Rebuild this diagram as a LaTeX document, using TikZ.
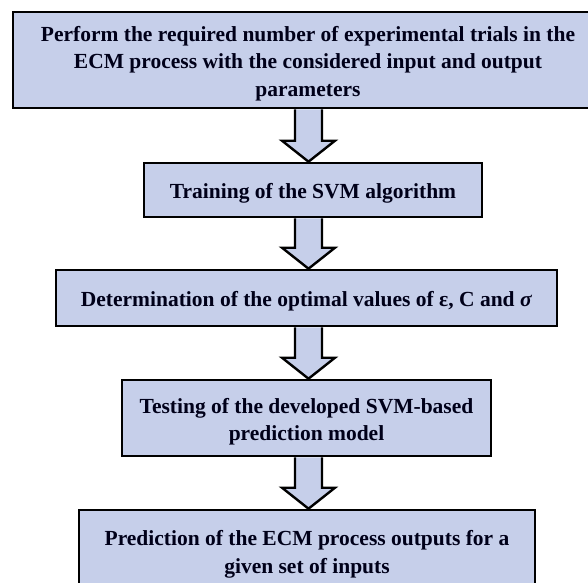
\documentclass[tikz,border=0pt]{standalone}
\usepackage{fontspec}
\setmainfont{Liberation Serif}
\usetikzlibrary{calc}
\definecolor{boxfill}{RGB}{198,207,234}
\tikzset{
  box/.style={draw=black, line width=2.6pt, fill=boxfill, inner sep=0pt},
  txt/.style={align=center, font=\bfseries\fontsize{21.5}{27.5}\selectfont,
    inner sep=0pt, yshift=-3.5pt, text=black!90!blue},
  flow/.style={draw=black, line width=2.4pt, fill=boxfill, line join=miter, miter limit=10},
}
\newcommand{\flowarrow}[2]{%
  \draw[flow] let \p1=(#1.south), \p2=(#2.north) in
    (295pt,\y1) -- (295pt,\y2+21pt) -- (282pt,\y2+21pt) -- (308.5pt,\y2)
    -- (335pt,\y2+21pt) -- (322pt,\y2+21pt) -- (322pt,\y1);
}
\begin{document}
\begin{tikzpicture}[x=1pt,y=-1pt]
  \useasboundingbox (0,0) rectangle (588,582);
  \clip (0,0) rectangle (588,582);
  \node[box, minimum width=590pt, minimum height=96pt,
    label={[txt]center:{Perform the required number of experimental trials in the\\
     ECM process with the considered input and output\\ parameters}}] (b1) at (308,60) {};
  \node[box, minimum width=338pt, minimum height=54pt,
    label={[txt]center:{Training of the SVM algorithm}}] (b2) at (313,190) {};
  \node[box, minimum width=501pt, minimum height=56pt,
    label={[txt]center:{Determination of the optimal values of ε, C and \textit{σ}}}] (b3) at (306.5,298) {};
  \node[box, minimum width=369pt, minimum height=76pt,
    label={[txt]center:{Testing of the developed SVM-based\\ prediction model}}] (b4) at (306.5,418) {};
  \node[box, minimum width=456pt, minimum height=90pt,
    label={[txt, yshift=4pt]center:{Prediction of the ECM process outputs for a\\ given set of inputs}}] (b5) at (307,555) {};
  \flowarrow{b1}{b2}
  \flowarrow{b2}{b3}
  \flowarrow{b3}{b4}
  \flowarrow{b4}{b5}
\end{tikzpicture}
\end{document}
